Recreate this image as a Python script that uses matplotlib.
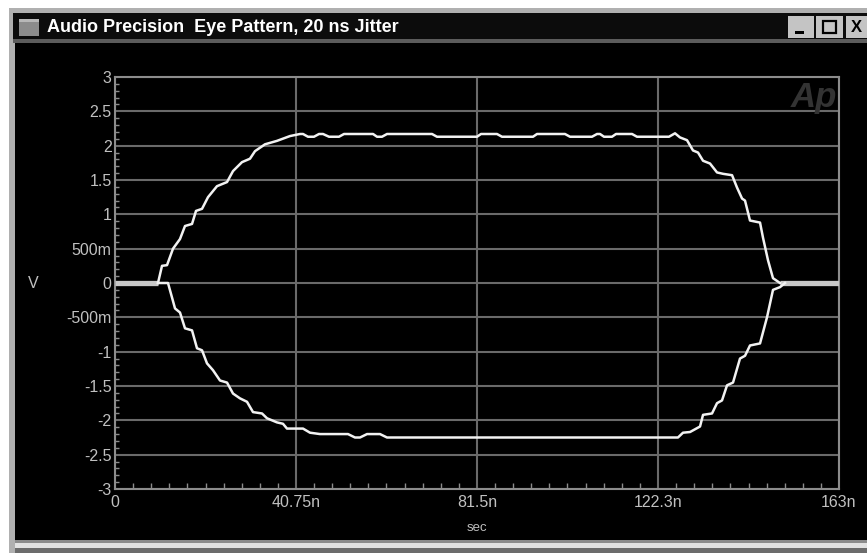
import matplotlib
matplotlib.use("Agg")
import matplotlib.pyplot as plt
from matplotlib.patches import Rectangle
from matplotlib.ticker import MultipleLocator

plt.rcParams["font.family"] = ["Liberation Sans", "DejaVu Sans"]

# %% data (time in ns, level in V), read off the screen capture
upper_t = [9.68, 10.58, 11.71, 13.06, 14.63, 15.76, 17.34, 18.24, 19.59, 20.94,
           22.96, 25.22, 26.57, 28.59, 30.39, 31.52, 33.77, 36.47, 39.40, 41.65,
           42.33, 43.45, 44.80, 45.93, 46.83, 48.18, 50.43, 51.56, 58.09, 58.99,
           60.11, 61.24, 71.37, 72.49, 81.50, 82.40, 86.00, 87.13, 94.11, 95.01,
           101.31, 102.44, 107.39, 108.52, 109.19, 110.09, 111.89, 112.80, 116.40, 117.52,
           124.73, 126.08, 127.20, 128.78, 130.13, 131.26, 132.39, 133.96, 135.54, 136.89,
           138.92, 140.04, 141.17, 141.84, 142.96, 145.22, 145.89, 147.02, 148.14, 149.72]
upper_v = [0.0, 0.25, 0.26, 0.50, 0.64, 0.83, 0.86, 1.05, 1.08, 1.25,
           1.41, 1.47, 1.63, 1.76, 1.81, 1.92, 2.02, 2.07, 2.14, 2.17,
           2.17, 2.13, 2.13, 2.17, 2.17, 2.13, 2.13, 2.17, 2.17, 2.13,
           2.13, 2.17, 2.17, 2.13, 2.13, 2.17, 2.17, 2.13, 2.13, 2.17,
           2.17, 2.13, 2.13, 2.17, 2.17, 2.13, 2.13, 2.17, 2.17, 2.13,
           2.13, 2.18, 2.12, 2.08, 1.93, 1.90, 1.78, 1.74, 1.61, 1.59,
           1.57, 1.39, 1.23, 1.20, 0.91, 0.88, 0.66, 0.33, 0.07, 0.0]

lower_t = [9.68, 11.93, 12.83, 13.51, 14.63, 15.76, 17.34, 18.46, 19.59, 20.71,
           22.06, 23.64, 25.22, 26.57, 28.14, 29.72, 31.07, 33.10, 34.22, 36.47,
           37.82, 38.72, 42.33, 43.90, 46.15, 52.46, 54.03, 55.16, 56.74, 59.66,
           61.24, 126.75, 127.88, 129.46, 131.71, 132.39, 134.41, 135.54, 136.66, 137.79,
           139.14, 140.71, 141.84, 142.96, 145.22, 146.79, 148.14, 149.72, 150.84]
lower_v = [0.0, 0.0, -0.21, -0.37, -0.43, -0.66, -0.69, -0.95, -0.98, -1.17,
           -1.27, -1.42, -1.45, -1.61, -1.68, -1.73, -1.88, -1.90, -1.97, -2.03,
           -2.05, -2.12, -2.12, -2.18, -2.20, -2.20, -2.25, -2.25, -2.20, -2.20,
           -2.25, -2.25, -2.18, -2.17, -2.09, -1.92, -1.90, -1.75, -1.71, -1.49,
           -1.45, -1.10, -1.06, -0.91, -0.88, -0.50, -0.10, -0.06, 0.0]

idle_left_t = [0, 9.68]
idle_right_t = [149.72, 163]
idle_v = [0, 0]

xticks = [0, 40.75, 81.5, 122.25, 163]
xticklabels = ["0", "40.75n", "81.5n", "122.3n", "163n"]
yticks = [3, 2.5, 2, 1.5, 1, 0.5, 0, -0.5, -1, -1.5, -2, -2.5, -3]
yticklabels = ["3", "2.5", "2", "1.5", "1", "500m", "0", "-500m",
               "-1", "-1.5", "-2", "-2.5", "-3"]

# %% window chrome
W, H = 867, 553
fig = plt.figure(figsize=(W / 100, H / 100), dpi=100)
fig.patch.set_facecolor("white")

bg = fig.add_axes([0, 0, 1, 1])
bg.set_xlim(0, W)
bg.set_ylim(H, 0)
bg.axis("off")


def box(x0, y0, x1, y1, c, **kw):
    bg.add_patch(Rectangle((x0, y0), x1 - x0, y1 - y0, facecolor=c,
                           edgecolor=kw.pop("ec", "none"), **kw))


box(9, 8, W, H, "#b0b0b0")
box(13, 13, W, 39, "#0c0c0c")
box(13, 39, W, 43, "#5c5c5c")
box(15, 43, W, 540, "black")
box(15, 540, W, 543, "#8c8c8c")
box(15, 543, W, 548, "#e2e2e2")
box(15, 548, W, 553, "#6c6c6c")

# title icon and buttons
box(19, 19, 39, 36, "#8c8c8c")
box(19, 19, 39, 22, "#b8b8b8")
bg.text(47, 27, "Audio Precision  Eye Pattern, 20 ns Jitter", color="white",
        fontsize=13, fontweight="bold", va="center", ha="left")
box(788, 16, 814, 38, "#c4c4c4")
box(816, 16, 843, 38, "#c4c4c4")
box(846, 16, W, 38, "#c4c4c4")
box(795, 31, 804, 34, "black")
box(823, 21, 836, 33, "none", ec="black", lw=1.6)
bg.text(856, 27, "X", color="black", fontsize=12, fontweight="bold",
        ha="center", va="center")

bg.text(33, 284, "V", color="#c0c0c0", fontsize=11.5, ha="center", va="center")
bg.text(477, 528, "sec", color="#c0c0c0", fontsize=9.5, ha="center", va="center")

# %% plot area
ax = fig.add_axes([115 / W, 1 - 489 / H, 724 / W, 412 / H])
ax.set_facecolor("black")

ax.plot(idle_left_t, idle_v, color="#c8c8c8", lw=3.8, solid_capstyle="butt", zorder=3)
ax.plot(idle_right_t, idle_v, color="#c8c8c8", lw=3.8, solid_capstyle="butt", zorder=3)
ax.plot(upper_t, upper_v, color="#f2f2f2", lw=1.8, zorder=4)
ax.plot(lower_t, lower_v, color="#f2f2f2", lw=1.8, zorder=4)

ax.set_xlim(0, 163)
ax.set_ylim(-3, 3)
ax.set_xticks(xticks, xticklabels)
ax.set_yticks(yticks, yticklabels)
ax.xaxis.set_minor_locator(MultipleLocator(4.075))
ax.yaxis.set_minor_locator(MultipleLocator(0.1))
ax.tick_params(which="both", direction="in", color="#8c8c8c",
               labelcolor="#c0c0c0", labelsize=11.5)
ax.tick_params(which="major", length=0)
ax.tick_params(axis="x", which="major", pad=4)
ax.tick_params(axis="y", which="major", pad=2.5)
ax.tick_params(axis="x", which="minor", length=4.5, width=1)
ax.tick_params(axis="y", which="minor", length=3, width=1)
ax.grid(True, which="major", color="#6a6a6a", lw=1.5)
for sp in ax.spines.values():
    sp.set_color("#8c8c8c")
    sp.set_linewidth(1.5)

ax.text(0.997, 0.99, "Ap", transform=ax.transAxes, color="#333333",
        fontsize=25, fontweight="bold", fontstyle="italic", ha="right", va="top")

plt.savefig("out.png", dpi=100, facecolor=fig.get_facecolor())
